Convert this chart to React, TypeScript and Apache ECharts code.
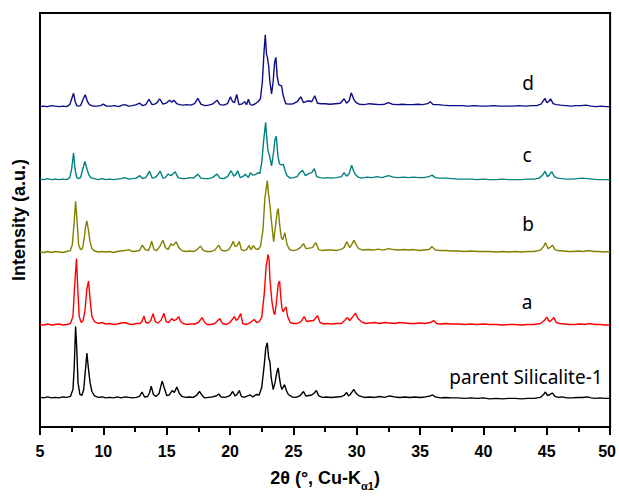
import React, { useEffect, useRef } from "react";
import * as echarts from "echarts";

// 2θ (deg) and relative intensity (stacked, arbitrary units)
const parentSilicalite: number[][] = [[5.0,30],[5.3,29.5],[5.6,30.5],[5.9,29.5],[6.2,30],[6.5,29.5],[6.8,30.5],[7.1,30],[7.4,31],[7.6,38],[7.7,60],[7.81,102],[7.9,80],[8.0,45],[8.15,33],[8.3,32],[8.45,38],[8.6,60],[8.7,75],[8.8,62],[8.95,45],[9.1,36],[9.3,31.5],[9.6,30],[9.9,30.5],[10.2,29.5],[10.5,30],[10.8,29.5],[11.1,30.5],[11.4,29.5],[11.7,30.5],[12.0,30],[12.3,29.5],[12.6,30],[12.85,31],[13.05,35.5],[13.25,30.5],[13.5,31],[13.65,35],[13.78,41.5],[13.95,33],[14.15,31],[14.4,34],[14.55,42],[14.65,46.5],[14.8,40],[15.0,32],[15.2,32.5],[15.44,37],[15.6,35],[15.8,40.5],[16.0,34],[16.2,31],[16.5,30],[16.8,30.5],[17.1,30],[17.35,32],[17.59,36],[17.8,32],[18.0,29.5],[18.3,30],[18.6,30.5],[18.9,31.5],[19.11,33.5],[19.3,30.5],[19.6,30],[19.85,31],[20.0,32],[20.21,36],[20.4,31.5],[20.55,33],[20.73,37],[20.9,31],[21.1,30],[21.4,31.5],[21.6,32.5],[21.8,30.5],[21.9,31.5],[22.1,33],[22.3,32.5],[22.5,40],[22.7,63],[22.82,80],[22.94,85.5],[23.05,70],[23.15,66],[23.25,50],[23.41,38],[23.55,45],[23.7,56],[23.8,60],[23.9,50],[24.0,42],[24.1,38],[24.3,43],[24.45,37],[24.6,33],[24.9,30.5],[25.2,30],[25.5,31.5],[25.8,36],[25.98,31.5],[26.2,32],[26.45,32.5],[26.65,34.5],[26.82,37],[27.0,31.5],[27.3,30],[27.6,30.5],[28.0,30],[28.4,30.5],[28.8,31],[29.0,32],[29.2,35],[29.35,31.5],[29.5,33],[29.65,36],[29.78,38],[29.9,35],[30.05,33],[30.2,31.5],[30.6,30],[31.0,30.5],[31.4,30],[31.8,31],[32.2,30],[32.6,31.5],[33.0,30.5],[33.4,30],[33.8,30.5],[34.2,30],[34.6,30.5],[35.0,30],[35.4,30.5],[35.8,31.5],[36.0,32.5],[36.2,30.5],[36.6,29.5],[37.0,30],[37.5,29.5],[38.0,29.5],[38.5,29],[39.0,29.5],[39.5,29],[40.0,29.5],[40.5,28.5],[41.0,29],[41.5,28.5],[42.0,29],[42.5,29],[43.0,28.5],[43.5,29],[44.0,29],[44.5,30],[44.75,33],[44.9,35.5],[45.05,32],[45.2,32.5],[45.45,34.5],[45.65,31],[45.9,30],[46.2,30.5],[46.6,29.5],[47.0,29.5],[47.4,30],[47.8,30],[48.2,30.5],[48.5,29.5],[48.8,29],[49.2,29.5],[49.6,29],[50.0,29]];

const sampleA: number[][] = [[5.0,104],[5.3,103.5],[5.6,104.5],[5.9,103.5],[6.2,104],[6.5,104.5],[6.8,103.5],[7.1,104],[7.4,105],[7.6,112],[7.72,140],[7.88,171],[7.98,140],[8.1,112],[8.25,106],[8.4,108],[8.55,118],[8.7,140],[8.83,148],[8.95,130],[9.1,112],[9.3,107],[9.6,105],[9.9,106],[10.2,104.5],[10.5,105],[10.8,104],[11.1,104.5],[11.4,105.5],[11.7,106],[12.0,104.5],[12.3,104],[12.6,105],[12.9,105],[13.05,107],[13.21,112.5],[13.35,106],[13.55,105.5],[13.75,108],[13.92,115],[14.1,107],[14.3,105.5],[14.55,108],[14.78,115.5],[14.95,107],[15.15,106],[15.4,110],[15.55,108],[15.75,109],[15.94,112],[16.1,107],[16.3,105],[16.6,104],[16.9,104.5],[17.2,104.5],[17.5,106],[17.8,111],[18.0,106],[18.2,104],[18.5,104],[18.8,105],[19.2,110],[19.4,105],[19.7,104],[20.0,106],[20.34,112],[20.5,108],[20.65,110],[20.84,115],[21.0,105],[21.3,104],[21.6,106],[21.9,109],[22.1,106],[22.3,107],[22.5,111],[22.7,135],[22.85,163],[23.0,175],[23.08,170],[23.15,150],[23.3,128],[23.45,116],[23.54,114],[23.65,125],[23.8,145],[23.91,148],[24.0,133],[24.1,120],[24.2,117],[24.41,122],[24.55,112],[24.75,106],[25.0,105],[25.3,105],[25.6,107],[25.85,112],[26.05,107],[26.3,107.5],[26.6,108],[26.9,113],[27.1,106],[27.4,104.5],[27.7,105],[28.0,104.5],[28.4,105],[28.8,105],[29.05,108],[29.26,111],[29.45,108],[29.7,112],[29.9,115.5],[30.1,110],[30.35,107],[30.7,105],[31.0,105.5],[31.4,106],[31.8,105],[32.2,106],[32.6,105.5],[33.0,105],[33.4,106],[33.8,105.5],[34.2,105],[34.6,105],[35.0,105.5],[35.4,105],[35.8,106],[36.08,108],[36.3,105],[36.6,104.5],[37.0,105],[37.5,104.5],[38.0,104.5],[38.5,104],[39.0,104.5],[39.5,104],[40.0,104.5],[40.5,104],[41.0,104],[41.5,103.5],[42.0,104],[42.5,104],[43.0,103.5],[43.5,104],[44.0,104],[44.5,105],[44.8,108],[45.0,111.5],[45.2,107],[45.35,108],[45.57,111],[45.75,106],[46.0,105],[46.4,104.5],[46.8,104],[47.2,104],[47.6,104.5],[48.0,104],[48.4,105],[48.8,104],[49.2,104],[49.6,103.5],[50.0,103.5]];

const sampleB: number[][] = [[5.0,177.5],[5.3,177],[5.6,178],[5.9,177],[6.2,178],[6.5,177.5],[6.8,177],[7.1,178],[7.4,179],[7.55,185],[7.68,205],[7.81,229],[7.92,210],[8.05,185],[8.2,180],[8.35,181],[8.5,192],[8.6,204],[8.7,209],[8.82,200],[8.95,188],[9.1,181],[9.3,178.5],[9.6,177.5],[9.9,178],[10.2,177.5],[10.5,178],[10.8,177],[11.1,178],[11.4,178.5],[11.7,179],[12.0,180],[12.3,178],[12.6,178.5],[12.85,179],[13.08,184.5],[13.3,180],[13.55,179],[13.7,183],[13.81,188.5],[14.0,180],[14.2,179],[14.45,183],[14.7,189.5],[14.9,182],[15.1,180],[15.35,186],[15.5,184],[15.75,188],[15.95,182],[16.2,179],[16.5,178],[16.8,178.5],[17.1,178],[17.4,180],[17.67,183.5],[17.9,179],[18.2,178],[18.5,178],[18.8,179.5],[19.11,184.5],[19.3,179.5],[19.6,178.5],[19.9,180],[20.1,184],[20.26,188.5],[20.4,183],[20.55,184],[20.73,188],[20.9,180],[21.1,179],[21.3,180],[21.5,184],[21.65,180],[21.85,184],[22.0,181],[22.2,180],[22.4,183],[22.6,200],[22.75,232],[22.94,250],[23.05,235],[23.15,225],[23.3,205],[23.44,188],[23.6,205],[23.72,218],[23.8,221.5],[23.92,205],[24.05,192],[24.15,190],[24.33,197],[24.5,185],[24.7,180],[25.0,179],[25.3,180],[25.55,182],[25.8,186],[26.0,181],[26.25,181.5],[26.5,182],[26.77,187],[27.0,180],[27.3,179],[27.6,179.5],[28.0,179.5],[28.4,179],[28.8,180.5],[29.0,182],[29.2,188],[29.45,182],[29.6,185],[29.78,189.5],[29.95,185],[30.15,181],[30.5,179.5],[30.9,180],[31.3,179.5],[31.7,180.5],[32.1,179.5],[32.5,181],[32.9,180],[33.3,179.5],[33.7,180],[34.1,179.5],[34.5,180],[34.9,179],[35.3,179.5],[35.7,180],[35.95,183],[36.2,179.5],[36.6,179],[37.0,179],[37.5,178.5],[38.0,178.5],[38.5,178],[39.0,178.5],[39.5,178],[40.0,178],[40.5,178],[41.0,177.5],[41.5,178],[42.0,177.5],[42.5,178],[43.0,177.5],[43.5,178],[44.0,178],[44.5,179.5],[44.75,183],[44.9,187],[45.1,181],[45.25,182],[45.45,184.5],[45.65,180],[45.9,179],[46.3,178.5],[46.7,178],[47.1,178],[47.5,178.5],[47.9,178],[48.3,179],[48.7,178],[49.1,178],[49.5,177.5],[50.0,178]];

const sampleC: number[][] = [[5.0,251.5],[5.3,251],[5.6,252],[5.9,251],[6.2,251.5],[6.5,251],[6.8,251.5],[7.1,251],[7.35,253],[7.5,262],[7.65,278],[7.76,262],[7.9,253],[8.05,252],[8.2,253],[8.38,262],[8.55,269.5],[8.7,262],[8.85,256],[9.0,253],[9.3,252],[9.6,251],[9.9,252],[10.2,251],[10.5,251.5],[10.8,251],[11.1,251.5],[11.4,252],[11.7,253],[12.0,251.5],[12.3,252],[12.6,252.5],[12.87,255],[13.1,252],[13.35,253],[13.65,259.5],[13.85,252.5],[14.05,253],[14.25,255],[14.49,259.5],[14.7,252.5],[14.9,253],[15.1,256.5],[15.35,255],[15.67,259],[15.9,253],[16.2,252],[16.5,252],[16.8,253],[17.1,252.5],[17.46,256.5],[17.7,252.5],[18.0,252],[18.3,252],[18.6,253],[18.98,256.5],[19.2,252.5],[19.5,252],[19.8,254],[20.08,260],[20.3,254.5],[20.45,256],[20.6,260],[20.8,253],[21.0,254],[21.2,256.5],[21.45,253],[21.6,258],[21.8,255.5],[22.0,256],[22.2,258],[22.35,257],[22.5,268],[22.65,290],[22.81,309],[22.92,290],[23.0,280],[23.1,276],[23.28,265],[23.45,280],[23.55,292],[23.65,295],[23.78,275],[23.9,267],[24.05,266],[24.2,266.5],[24.35,260],[24.5,255],[24.75,252.5],[25.0,253],[25.3,254],[25.5,258],[25.72,260.5],[25.95,255],[26.2,257],[26.45,258],[26.65,262],[26.85,254],[27.1,253],[27.4,252.5],[27.7,253],[28.0,252.5],[28.4,253],[28.8,254],[29.0,258],[29.2,254.5],[29.4,257],[29.6,265.5],[29.75,260],[29.9,256],[30.1,253.5],[30.4,252.5],[30.8,253.5],[31.2,253],[31.6,254],[32.0,253],[32.5,255],[32.9,253.5],[33.3,253],[33.7,253.5],[34.1,253],[34.5,253.5],[34.9,253],[35.3,253],[35.7,254],[35.95,255.5],[36.2,253],[36.5,252.5],[37.0,252.5],[37.5,252],[38.0,251.5],[38.5,251.5],[39.0,251.5],[39.5,251],[40.0,251.5],[40.5,251],[41.0,251],[41.5,251.5],[42.0,251],[42.5,251],[43.0,251],[43.5,251.5],[44.0,251.5],[44.4,252.5],[44.7,256],[44.86,259.5],[45.05,254],[45.2,255.5],[45.4,259],[45.6,254],[45.85,252.5],[46.2,252],[46.6,251.5],[47.0,251.5],[47.4,252],[47.8,252.5],[48.2,252],[48.6,251.5],[49.0,251],[49.5,251],[50.0,251]];

const sampleD: number[][] = [[5.0,325],[5.3,325.5],[5.6,325],[5.9,326],[6.2,325.5],[6.5,325],[6.8,325.5],[7.1,325],[7.35,327],[7.5,333],[7.65,338.5],[7.78,330],[7.9,326],[8.05,325.5],[8.2,326],[8.35,331],[8.57,337],[8.75,330],[8.9,327],[9.2,325.5],[9.5,325.5],[9.8,326],[10.0,327.5],[10.25,325.5],[10.6,325.5],[10.9,326],[11.2,325],[11.5,326.5],[11.7,327],[12.0,325.5],[12.3,326],[12.6,327],[12.87,328.5],[13.1,326],[13.35,327],[13.6,332.5],[13.85,327],[14.05,327.5],[14.25,329],[14.44,333],[14.7,327.5],[14.95,328.5],[15.23,331.5],[15.4,329.5],[15.57,331.5],[15.8,328],[16.0,327],[16.3,326.5],[16.6,327],[16.9,326.5],[17.2,328],[17.46,333.5],[17.7,327.5],[18.0,326],[18.3,326.5],[18.6,327.5],[18.98,331.5],[19.2,327],[19.5,326.5],[19.8,328],[20.03,335],[20.2,330],[20.35,329],[20.53,337.5],[20.7,327],[20.9,327.5],[21.15,330],[21.3,327],[21.45,332.5],[21.6,327],[21.8,326.5],[22.0,328],[22.2,330],[22.4,333],[22.55,350],[22.68,380],[22.78,398],[22.88,378],[22.95,375],[23.05,366],[23.15,350],[23.28,338],[23.4,350],[23.52,370],[23.62,375],[23.72,356],[23.85,347],[24.07,346],[24.2,336],[24.4,328],[24.7,327.5],[25.0,328],[25.3,330],[25.59,335],[25.8,329],[26.0,330],[26.2,331],[26.45,330],[26.69,336],[26.9,328.5],[27.2,328],[27.5,328],[27.9,327.5],[28.3,328],[28.7,328.5],[29.0,333],[29.2,328.5],[29.4,331],[29.57,339],[29.75,333],[29.95,329],[30.2,327.5],[30.6,327],[31.0,328],[31.4,327.5],[31.8,327],[32.2,327.5],[32.5,329],[32.8,327.5],[33.2,327],[33.6,327.5],[34.0,327],[34.4,327],[34.8,327.5],[35.2,327],[35.6,328],[35.8,330],[36.05,327],[36.4,327],[36.8,326.5],[37.3,326],[37.8,326],[38.3,326],[38.8,325.5],[39.3,326],[39.8,325.5],[40.3,325.5],[40.8,326],[41.3,325.5],[41.8,325.5],[42.3,325.5],[42.8,326],[43.3,325.5],[43.8,326],[44.2,326],[44.55,327.5],[44.86,333.5],[45.0,329],[45.15,330],[45.3,333],[45.5,328],[45.75,327],[46.1,326.5],[46.5,326],[46.9,325.5],[47.3,326],[47.7,326],[48.1,326.5],[48.5,325.5],[48.9,325],[49.3,325.5],[49.7,325],[50.0,325]];

const seriesNames = ["parent Silicalite-1", "a", "b", "c", "d"];
const seriesData = [parentSilicalite, sampleA, sampleB, sampleC, sampleD];
const seriesColors = ["#000000", "#ff0000", "#808000", "#008080", "#0d0d85"];
const xTicks = [5, 10, 15, 20, 25, 30, 35, 40, 45, 50];

export default function App() {
  const ref = useRef<HTMLDivElement>(null);
  useEffect(() => {
    if (!ref.current) return;
    const chart = echarts.init(ref.current, undefined, { renderer: "svg" });
    const labelFont = '19px "Noto Sans", Arial, sans-serif';
    const axisFont = "Arial, 'Liberation Sans', sans-serif";
    const labelPos = [
      { x: 526, y: 377 },
      { x: 527, y: 302 },
      { x: 528, y: 224 },
      { x: 527, y: 155 },
      { x: 528, y: 83 },
    ];
    chart.setOption({
      animation: false,
      backgroundColor: "#ffffff",
      grid: {
        left: 40,
        right: 7,
        top: 13,
        bottom: 63,
        show: true,
        borderColor: "#000",
        borderWidth: 2,
        backgroundColor: "transparent",
      },
      xAxis: {
        type: "value",
        min: xTicks[0],
        max: xTicks[xTicks.length - 1],
        interval: 5,
        axisLine: { show: true, lineStyle: { color: "#000", width: 2 } },
        axisTick: { show: true, inside: false, length: 8, lineStyle: { color: "#000", width: 2 } },
        minorTick: { show: true, splitNumber: 2, length: 5, lineStyle: { color: "#000", width: 2 } },
        splitLine: { show: false },
        minorSplitLine: { show: false },
        axisLabel: {
          color: "#000",
          fontSize: 16,
          fontWeight: "bold",
          fontFamily: axisFont,
          margin: 16,
          formatter: (v: number) => (v === 50 ? "{e|50}" : String(v)),
          rich: {
            e: {
              color: "#000",
              fontSize: 16,
              fontWeight: "bold",
              fontFamily: axisFont,
              padding: [0, 6, 0, 0],
            },
          },
        },
        name: "{m|2θ (°, Cu-K}{sub|α1}{m|)}",
        nameLocation: "middle",
        nameGap: 42,
        nameTextStyle: {
          color: "#000",
          fontFamily: axisFont,
          fontWeight: "bold",
          rich: {
            m: {
              fontSize: 18,
              fontWeight: "bold",
              color: "#000",
              fontFamily: axisFont,
              padding: [0, 0, 4, 0],
              verticalAlign: "bottom",
            },
            sub: {
              fontSize: 11,
              fontWeight: "bold",
              color: "#000",
              fontFamily: axisFont,
              verticalAlign: "bottom",
            },
          },
        },
      },
      yAxis: {
        type: "value",
        min: 0,
        max: 420,
        axisLine: { show: true, lineStyle: { color: "#000", width: 2 } },
        axisTick: { show: false },
        axisLabel: { show: false },
        splitLine: { show: false },
        name: "Intensity (a.u.)",
        nameLocation: "middle",
        nameGap: 12,
        nameTextStyle: {
          color: "#000",
          fontSize: 18,
          fontWeight: "bold",
          fontFamily: axisFont,
        },
      },
      series: seriesData.map((d, i) => ({
        name: seriesNames[i],
        type: "line",
        data: d,
        showSymbol: false,
        symbol: "none",
        smooth: false,
        lineStyle: { color: seriesColors[i], width: 1.4 },
        itemStyle: { color: seriesColors[i] },
        z: 2,
      })),
      graphic: seriesNames.map((n, i) => ({
        type: "text",
        x: labelPos[i].x,
        y: labelPos[i].y,
        z: 10,
        style: {
          text: n,
          font: labelFont,
          fill: "#000",
          align: "center",
          verticalAlign: "middle",
          textAlign: "center",
          textVerticalAlign: "middle",
        },
      })),
    });
    return () => chart.dispose();
  }, []);
  return (
    <div
      ref={ref}
      style={{ position: "absolute", left: 0, top: 0, width: 619, height: 496 }}
    />
  );
}
